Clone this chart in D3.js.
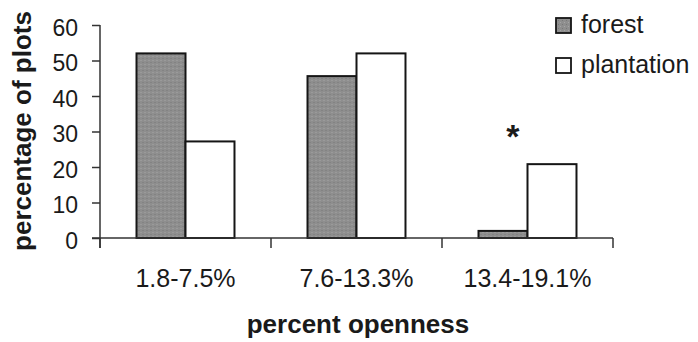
<!DOCTYPE html>
<html>
<head>
<meta charset="utf-8">
<script src="https://cdn.jsdelivr.net/npm/d3@7/dist/d3.min.js"></script>
<style>
  html, body { margin: 0; padding: 0; background: #fff; }
  svg { display: block; font-family: "Liberation Sans", Arial, sans-serif; }
</style>
</head>
<body>
<svg id="chart" width="698" height="342"></svg>
<script>
const categories = ["1.8-7.5%", "7.6-13.3%", "13.4-19.1%"];
const seriesNames = ["forest", "plantation"];
const forest = [52, 45.6, 2];
const plantation = [27.2, 52, 20.8];
const yTicks = [0, 10, 20, 30, 40, 50, 60];
const significant = ["13.4-19.1%"];

const colors = { forest: "#8e8e8e", plantation: "#ffffff" };

const svg = d3.select("#chart");

const defs = svg.append("defs");
const pat = defs.append("pattern").attr("id", "stipple")
  .attr("width", 4).attr("height", 4).attr("patternUnits", "userSpaceOnUse");
pat.append("rect").attr("width", 4).attr("height", 4).attr("fill", "#8e8e8e");
pat.append("rect").attr("x", 0).attr("y", 0).attr("width", 1).attr("height", 1).attr("fill", "#a6a6a6");
pat.append("rect").attr("x", 2).attr("y", 2).attr("width", 1).attr("height", 1).attr("fill", "#787878");

const x = d3.scaleBand().domain(categories).range([100, 613])
  .paddingInner(0.427).paddingOuter(0.2135);
const xs = d3.scaleBand().domain(seriesNames).range([0, x.bandwidth()]);
const y = d3.scaleLinear().domain([0, 60]).range([238, 25]);

const data = categories.map((c, i) => ({ cat: c, forest: forest[i], plantation: plantation[i] }));

// bars
const groups = svg.append("g").selectAll("g").data(data).join("g")
  .attr("transform", d => `translate(${x(d.cat)},0)`);
groups.selectAll("rect").data(d => seriesNames.map(s => ({ s, v: d[s] }))).join("rect")
  .attr("x", d => xs(d.s))
  .attr("y", d => y(d.v))
  .attr("width", xs.bandwidth())
  .attr("height", d => y(0) - y(d.v))
  .attr("fill", d => d.s === "forest" ? "url(#stipple)" : colors.plantation)
  .attr("stroke", "#151515")
  .attr("stroke-width", 2);

// y axis
const yAxis = d3.axisLeft(y).tickValues(yTicks).tickSize(8).tickPadding(14);
const gy = svg.append("g").attr("transform", "translate(100,0)").call(yAxis);
gy.select(".domain").attr("stroke", "#333").attr("stroke-width", 1.5).attr("d", "M0,25V248");
gy.selectAll(".tick line").attr("stroke", "#333").attr("stroke-width", 1.5);
gy.selectAll(".tick text").attr("font-size", 23).attr("fill", "#1a1a1a")
  .attr("font-family", "Liberation Sans, Arial, sans-serif").attr("dy", "0.45em");

// x axis line and ticks at band boundaries
const boundaries = [100, ...categories.map(c => x(c) + x.bandwidth() / 2 + x.step() / 2)];
svg.append("line").attr("x1", 92).attr("x2", 613).attr("y1", y(0)).attr("y2", y(0))
  .attr("stroke", "#333").attr("stroke-width", 1.5);
svg.append("g").selectAll("line").data(boundaries).join("line")
  .attr("x1", d => d).attr("x2", d => d).attr("y1", y(0)).attr("y2", y(0) + 10)
  .attr("stroke", "#333").attr("stroke-width", 1.5);

// x tick labels
svg.append("g").selectAll("text").data(categories).join("text")
  .attr("x", d => x(d) + x.bandwidth() / 2)
  .attr("y", 287)
  .attr("text-anchor", "middle")
  .attr("font-size", 25)
  .attr("fill", "#1a1a1a")
  .text(d => d);

// significance asterisk
svg.append("g").selectAll("text").data(significant).join("text")
  .attr("x", d => x(d) + x.bandwidth() * 0.35)
  .attr("y", 148)
  .attr("text-anchor", "middle")
  .attr("font-size", 34)
  .attr("font-weight", "bold")
  .attr("fill", "#1a1a1a")
  .text("*");

// axis titles
svg.append("text")
  .attr("transform", "translate(31,131) rotate(-90)")
  .attr("text-anchor", "middle")
  .attr("font-size", 26)
  .attr("font-weight", "bold")
  .attr("fill", "#1a1a1a")
  .text("percentage of plots");

svg.append("text")
  .attr("x", 358).attr("y", 333)
  .attr("text-anchor", "middle")
  .attr("font-size", 26)
  .attr("font-weight", "bold")
  .attr("fill", "#1a1a1a")
  .text("percent openness");

// legend
const legend = svg.append("g").selectAll("g").data(seriesNames).join("g")
  .attr("transform", (d, i) => `translate(556,${18 + i * 40})`);
legend.append("rect")
  .attr("x", 0).attr("y", 0).attr("width", 15).attr("height", 15)
  .attr("fill", d => d === "forest" ? "url(#stipple)" : colors.plantation)
  .attr("stroke", "#151515").attr("stroke-width", 1.8);
legend.append("text")
  .attr("x", 25).attr("y", 15)
  .attr("font-size", 25)
  .attr("fill", "#1a1a1a")
  .text(d => d);
</script>
</body>
</html>
